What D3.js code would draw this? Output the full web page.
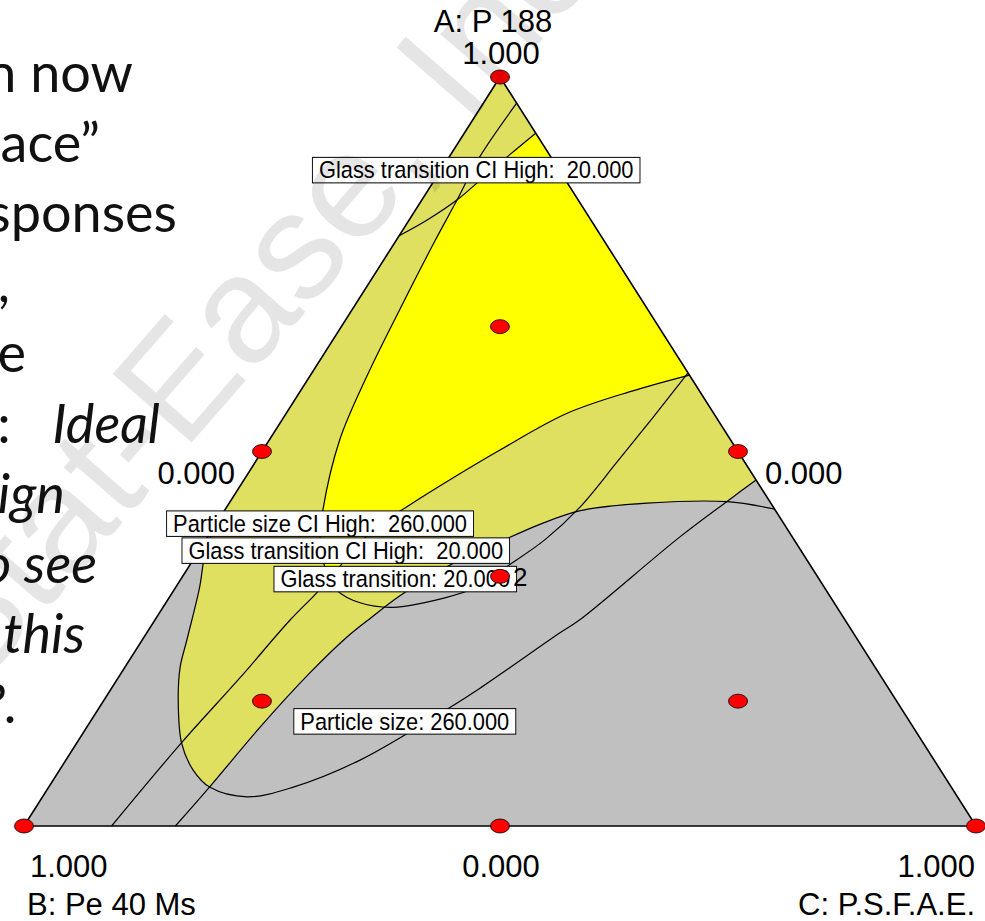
<!DOCTYPE html>
<html>
<head>
<meta charset="utf-8">
<script src="https://cdn.jsdelivr.net/npm/d3@7"></script>
<style>
  body { margin: 0; background: #fff; }
  text { font-family: "Liberation Sans", Arial, sans-serif; }
</style>
</head>
<body>
<div id="chart"></div>
<script>
// Mixture components, order [A, B, C]
const componentNames = ["A: P 188", "B: Pe 40 Ms", "C: P.S.F.A.E."];
const vertexTickLabel = "1.000";
const edgeTickLabel = "0.000";

// Design points (simplex centroid + axial checks)
const designPoints = [
  [1, 0, 0], [0, 1, 0], [0, 0, 1],
  [0.5, 0.5, 0], [0.5, 0, 0.5], [0, 0.5, 0.5],
  [0.3333, 0.3333, 0.3334],
  [0.6667, 0.1667, 0.1666], [0.1667, 0.6667, 0.1666], [0.1667, 0.1666, 0.6667]
];
const replicates = [{ at: [0.3333, 0.3333, 0.3334], count: "2" }];

// Contours, as [A, B, C]
const glassCIHighUpper = [
  [0.925, 0.000, 0.075], [0.896, 0.042, 0.062], [0.862, 0.090, 0.048],
  [0.836, 0.127, 0.037], [0.809, 0.172, 0.019], [0.788, 0.212, 0.000]
];
const glassCIHighLower = [
  [0.602, 0.000, 0.398], [0.581, 0.070, 0.349], [0.551, 0.154, 0.295],
  [0.502, 0.249, 0.249], [0.462, 0.322, 0.216], [0.429, 0.380, 0.191],
  [0.395, 0.436, 0.169], [0.355, 0.485, 0.160], [0.312, 0.536, 0.152],
  [0.275, 0.583, 0.142], [0.198, 0.674, 0.128], [0.112, 0.778, 0.110],
  [0.000, 0.908, 0.092]
];
const particleCIHigh = [
  [0.965, 0.000, 0.035], [0.893, 0.075, 0.032], [0.836, 0.127, 0.037],
  [0.782, 0.177, 0.041], [0.689, 0.261, 0.050], [0.600, 0.340, 0.060],
  [0.515, 0.411, 0.074], [0.422, 0.475, 0.103], [0.382, 0.498, 0.120],
  [0.346, 0.511, 0.143], [0.315, 0.514, 0.171], [0.298, 0.498, 0.204],
  [0.292, 0.466, 0.242], [0.304, 0.408, 0.288], [0.318, 0.367, 0.315],
  [0.345, 0.322, 0.333], [0.382, 0.262, 0.356], [0.425, 0.204, 0.371],
  [0.486, 0.134, 0.380], [0.546, 0.066, 0.388], [0.605, 0.000, 0.395]
];
const particleSize = [
  [0.402, 0.598, 0.000], [0.362, 0.629, 0.009], [0.319, 0.656, 0.025],
  [0.248, 0.705, 0.047], [0.212, 0.730, 0.058], [0.168, 0.754, 0.078],
  [0.111, 0.779, 0.110], [0.075, 0.785, 0.140], [0.052, 0.779, 0.169],
  [0.039, 0.746, 0.215], [0.052, 0.691, 0.257], [0.088, 0.603, 0.309],
  [0.158, 0.474, 0.368], [0.184, 0.429, 0.387], [0.258, 0.308, 0.434],
  [0.275, 0.279, 0.446], [0.386, 0.118, 0.496], [0.439, 0.036, 0.525],
  [0.462, 0.000, 0.538]
];
const glassTransition = [
  [0.000, 0.841, 0.159], [0.053, 0.778, 0.169], [0.132, 0.686, 0.182],
  [0.204, 0.598, 0.198], [0.252, 0.535, 0.213], [0.279, 0.495, 0.226],
  [0.307, 0.452, 0.241], [0.346, 0.383, 0.271], [0.375, 0.320, 0.305],
  [0.403, 0.256, 0.341], [0.421, 0.205, 0.374], [0.431, 0.130, 0.439],
  [0.433, 0.045, 0.522], [0.423, 0.000, 0.577]
];

const contourLabels = [
  { text: "Glass transition CI High:  20.000", at: [0.876, 0.087, 0.037] },
  { text: "Particle size CI High:  260.000", at: [0.404, 0.487, 0.109] },
  { text: "Glass transition CI High:  20.000", at: [0.368, 0.478, 0.154] },
  { text: "Glass transition: 20.000", at: [0.330, 0.445, 0.225] },
  { text: "Particle size: 260.000", at: [0.140, 0.530, 0.330] }
];

// Slide text partly hidden behind the chart image
const slideLines = [
  [["n now", false]], [["ace\u201d", false]], [["sponses", false]], [[",", false]],
  [["e", false]], [[":   ", false], ["Ideal", true]], [["ign", true]],
  [["o see", true]], [["this", true]], [["?.", true]]
];
const slideLineEnds = [133, 100, 177, 10, 26, 160, 65, 97, 85, 18];

const width = 985, height = 921;

const svg = d3.select("#chart").append("svg")
  .attr("width", width)
  .attr("height", height);

// Ternary -> screen through two linear scales (u = C + A/2, v = A)
const xScale = d3.scaleLinear().domain([0, 1]).range([24, 976]);
const yScale = d3.scaleLinear().domain([0, 1]).range([826, 77]);
const px = d => xScale(d[2] + d[0] / 2);
const py = d => yScale(d[0]);

const A = [1, 0, 0], B = [0, 1, 0], C = [0, 0, 1];
const pt = d => `${px(d)},${py(d)}`;

const line = d3.line().x(px).y(py).curve(d3.curveCatmullRom.alpha(0.5));

// closed regions built from a contour and triangle corners
const insidePSU = line(particleSize) + `L${pt(A)}Z`;
const aboveGT = line(glassTransition) + `L${pt(A)}L${pt(B)}Z`;
const insidePCI = line(particleCIHigh) + "Z";
const belowGCIUpper = line(glassCIHighUpper) + `L${pt(B)}L${pt(C)}Z`;
const aboveGCILower = line(glassCIHighLower) + `L${pt(B)}L${pt(A)}Z`;

const defs = svg.append("defs");
defs.append("clipPath").attr("id", "clipPSU").append("path").attr("d", insidePSU);
defs.append("clipPath").attr("id", "clipG1").append("path").attr("d", belowGCIUpper);
defs.append("clipPath").attr("id", "clipG2").append("path").attr("d", aboveGCILower);

const triangle = `M${pt(A)}L${pt(B)}L${pt(C)}Z`;

// Base: not meeting criteria
svg.append("path").attr("d", triangle).attr("fill", "#c0c0c0");

// Mean criteria met
svg.append("path")
  .attr("d", aboveGT)
  .attr("clip-path", "url(#clipPSU)")
  .attr("fill", "#dfdf60");

// CI criteria met too
svg.append("g").attr("clip-path", "url(#clipG2)")
  .append("g").attr("clip-path", "url(#clipG1)")
  .append("path")
  .attr("d", insidePCI)
  .attr("fill", "#ffff00");

// Contour lines
[glassCIHighUpper, glassCIHighLower, particleCIHigh, particleSize, glassTransition]
  .forEach(c => {
    svg.append("path")
      .attr("d", line(c))
      .attr("fill", "none")
      .attr("stroke", "#000")
      .attr("stroke-width", 1.2);
  });

// Triangle outline
svg.append("path").attr("d", triangle)
  .attr("fill", "none").attr("stroke", "#000").attr("stroke-width", 1.6);

// Contour labels (text a little condensed like the original)
contourLabels.forEach(l => {
  const g = svg.append("g")
    .attr("transform", `translate(${px(l.at)},${py(l.at)}) scale(0.93,1)`);
  const rect = g.append("rect");
  const t = g.append("text")
    .attr("text-anchor", "middle")
    .attr("dy", "0.36em")
    .style("white-space", "pre")
    .attr("font-size", 23.5)
    .attr("fill", "#000")
    .text(l.text);
  const bb = t.node().getBBox();
  rect.attr("x", bb.x - 7).attr("y", -12.5)
    .attr("width", bb.width + 14).attr("height", 25.5)
    .attr("fill", "#fff").attr("stroke", "#000").attr("stroke-width", 1);
});

// Design points
svg.selectAll("ellipse.pt").data(designPoints).join("ellipse")
  .attr("class", "pt")
  .attr("cx", px).attr("cy", py)
  .attr("rx", 9.5).attr("ry", 7)
  .attr("fill", "#ff0000").attr("stroke", "#000").attr("stroke-width", 0.8);

svg.selectAll("text.rep").data(replicates).join("text")
  .attr("class", "rep")
  .attr("x", d => px(d.at) + 13).attr("y", d => py(d.at) + 10)
  .attr("font-size", 26)
  .text(d => d.count);

// Axis labels
const axisFont = 31;
svg.append("text").attr("x", px(A) - 7).attr("y", 32).attr("text-anchor", "middle")
  .attr("font-size", axisFont).text(componentNames[0]);
svg.append("text").attr("x", px(A) + 1).attr("y", 64).attr("text-anchor", "middle")
  .attr("font-size", axisFont).text(vertexTickLabel);

svg.append("text").attr("x", px(B) + 6).attr("y", 877).attr("font-size", axisFont).text(vertexTickLabel);
svg.append("text").attr("x", px(B) + 3).attr("y", 915).attr("font-size", axisFont).text(componentNames[1]);
svg.append("text").attr("x", px(C) - 1).attr("y", 877).attr("text-anchor", "end")
  .attr("font-size", axisFont).text(vertexTickLabel);
svg.append("text").attr("x", px(C) - 1).attr("y", 915).attr("text-anchor", "end")
  .attr("font-size", axisFont).text(componentNames[2]);

const midBC = [0, 0.5, 0.5], midAB = [0.5, 0.5, 0], midAC = [0.5, 0, 0.5];
svg.append("text").attr("x", px(midBC) + 1).attr("y", 877).attr("text-anchor", "middle")
  .attr("font-size", axisFont).text(edgeTickLabel);
svg.append("text").attr("x", px(midAB) - 27).attr("y", py(midAB) + 32).attr("text-anchor", "end")
  .attr("font-size", axisFont).text(edgeTickLabel);
svg.append("text").attr("x", px(midAC) + 27).attr("y", py(midAC) + 32)
  .attr("font-size", axisFont).text(edgeTickLabel);

// Slide text on the left
const slide = svg.append("g").attr("font-size", 54).attr("fill", "#111");
slideLines.forEach((parts, i) => {
  const t = slide.append("text")
    .attr("x", slideLineEnds[i])
    .attr("y", 92 + i * 70.1)
    .attr("text-anchor", "end")
    .style("font-family", "Lato, 'Open Sans', sans-serif")
    .style("white-space", "pre");
  parts.forEach(([s, it]) => t.append("tspan").attr("font-style", it ? "italic" : "normal").text(s));
});

// Watermark
svg.append("text")
  .attr("transform", "translate(300,318) rotate(-49)")
  .attr("text-anchor", "middle")
  .attr("font-size", 152)
  .attr("fill", "#000")
  .attr("fill-opacity", 0.1)
  .text("Stat-Ease, Inc.");
</script>
</body>
</html>
